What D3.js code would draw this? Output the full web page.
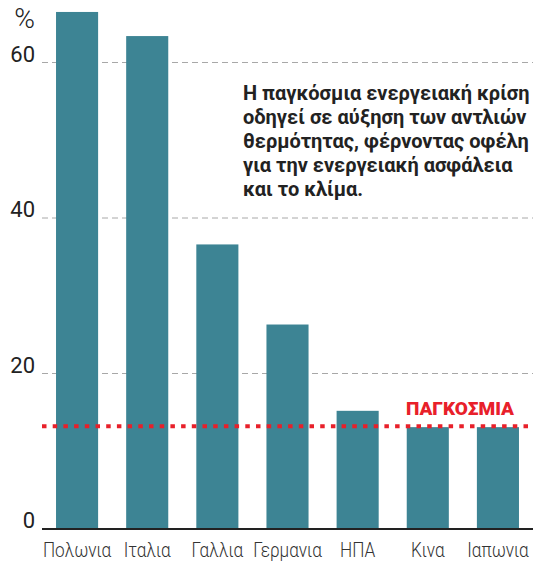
<!DOCTYPE html>
<html>
<head>
<meta charset="utf-8">
<script src="https://cdn.jsdelivr.net/npm/d3@7"></script>
<style>
  body { margin: 0; background: #fff; }
  text { font-family: Roboto, "Liberation Sans", sans-serif; }
</style>
</head>
<body>
<script>
// chart values
var countries = ["Πολωνια", "Ιταλια", "Γαλλια", "Γερμανια", "ΗΠΑ", "Κινα", "Ιαπωνια"];
var values = [66.5, 63.4, 36.6, 26.3, 15.2, 13.1, 13.1];
var worldValue = 13.2;
var yTicks = [0, 20, 40, 60];
var noteLines = [
    "Η παγκόσμια ενεργειακή κρίση",
    "οδηγεί σε αύξηση των αντλιών",
    "θερμότητας, φέρνοντας οφέλη",
    "για την ενεργειακή ασφάλεια",
    "και το κλίμα."
];

var w = 552;
var h = 561;
var left = 42, right = 533, bottom = 529;

var svg = d3.select("body")
    .append("svg")
    .attr("width", w)
    .attr("height", h);

var xScale = d3.scaleBand()
    .domain(countries)
    .range([left, right])
    .paddingInner(0.4)
    .paddingOuter(0.2);

var yScale = d3.scaleLinear()
    .domain([0, 60])
    .range([bottom, 62.5]);

/* gridlines and tick labels */
svg.selectAll(".grid")
    .data(yTicks.filter(function(d){ return d > 0; }))
    .enter()
    .append("line")
    .attr("class", "grid")
    .attr("x1", left)
    .attr("x2", right)
    .attr("y1", function(d){ return yScale(d); })
    .attr("y2", function(d){ return yScale(d); })
    .attr("stroke", "#a8a8a8")
    .attr("stroke-width", 1)
    .attr("stroke-dasharray", "6,4");

svg.selectAll(".tick")
    .data(yTicks)
    .enter()
    .append("text")
    .attr("class", "tick")
    .attr("x", 35)
    .attr("y", function(d){ return yScale(d) - 1; })
    .attr("text-anchor", "end")
    .attr("font-size", 22)
    .attr("fill", "#222")
    .text(function(d){ return d; });

svg.append("text")
    .attr("x", 35)
    .attr("y", 28)
    .attr("text-anchor", "end")
    .attr("font-size", 28)
    .attr("font-weight", 300)
    .attr("fill", "#222")
    .text("%");

/* bars */
svg.selectAll("rect")
    .data(values)
    .enter()
    .append("rect")
    .attr("x", function(d, i){ return xScale(countries[i]); })
    .attr("y", function(d){ return yScale(d); })
    .attr("width", xScale.bandwidth())
    .attr("height", function(d){ return bottom - yScale(d); })
    .style("fill", "#3d8494");

/* baseline */
svg.append("line")
    .attr("x1", left)
    .attr("x2", right)
    .attr("y1", bottom)
    .attr("y2", bottom)
    .attr("stroke", "#222")
    .attr("stroke-width", 2);

/* category labels, squeezed a bit to look condensed */
svg.selectAll(".cat")
    .data(countries)
    .enter()
    .append("text")
    .attr("class", "cat")
    .attr("transform", function(d){
        return "translate(" + (xScale(d) + xScale.bandwidth() / 2) + ",557) scale(0.86,1)";
    })
    .attr("text-anchor", "middle")
    .attr("font-size", 20)
    .attr("font-weight", 300)
    .attr("fill", "#333")
    .text(function(d){ return d; });

/* world average */
svg.append("line")
    .attr("x1", left)
    .attr("x2", right)
    .attr("y1", yScale(worldValue))
    .attr("y2", yScale(worldValue))
    .attr("stroke", "#e8202a")
    .attr("stroke-width", 4)
    .attr("stroke-dasharray", "4.5,6.2");

svg.append("text")
    .attr("x", 514)
    .attr("y", 415)
    .attr("text-anchor", "end")
    .attr("font-size", 19)
    .attr("font-weight", 900)
    .attr("fill", "#e8202a")
    .text("ΠΑΓΚΟΣΜΙΑ");

/* annotation */
svg.append("text")
    .attr("font-size", 20)
    .attr("font-weight", "bold")
    .attr("fill", "#222")
    .selectAll("tspan")
    .data(noteLines)
    .enter()
    .append("tspan")
    .attr("x", 243)
    .attr("y", function(d, i){ return 100 + i * 24; })
    .text(function(d){ return d; });
</script>
</body>
</html>
